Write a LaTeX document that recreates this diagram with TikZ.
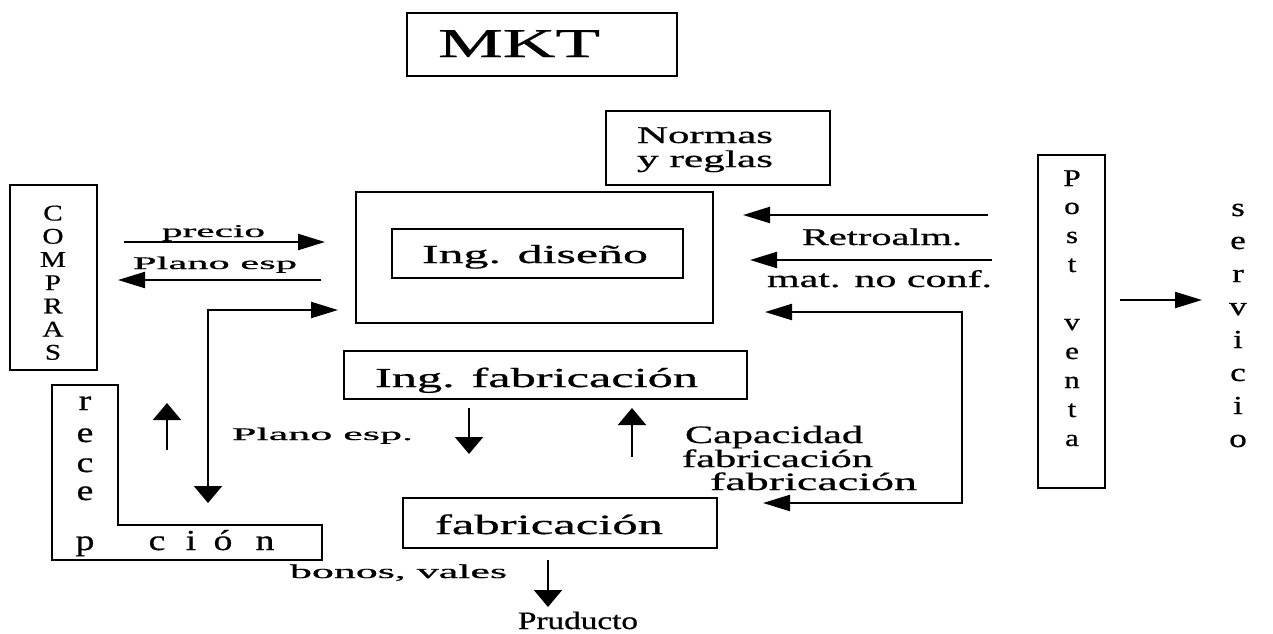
\documentclass[tikz,border=0pt]{standalone}
\usepackage{fontspec}
\setmainfont{Liberation Serif}[FakeBold=0.6]
\usetikzlibrary{arrows.meta}

% text of a given width (pt) and font size (pt), stretched horizontally
\newcommand\tx[3]{\resizebox{#1pt}{\height}{\fontsize{#2pt}{#2pt}\selectfont #3}}
% single letter: horizontal stretch factor, font size, letter
\newcommand\ltr[3]{\scalebox{#1}[1]{\fontsize{#2pt}{#2pt}\selectfont #3}}

\tikzset{
  box/.style={draw, line width=2.2pt, inner sep=0pt, outer sep=0pt},
  lbl/.style={inner sep=0pt, outer sep=0pt, anchor=base west},
  ch/.style={inner sep=0pt, outer sep=0pt, anchor=base},
  link/.style={line width=2.2pt},
  htip/.tip={Triangle[length=27pt,width=16pt]},
  vtip/.tip={Triangle[length=17pt,width=28pt]},
  hz/.style={link, -htip},
  vt/.style={link, -vtip},
}

\begin{document}
\begin{tikzpicture}[x=1pt, y=-1pt]
\useasboundingbox (0,0) rectangle (1273,633);

% ---- boxes ----
\node[box, minimum width=270pt, minimum height=63pt]  (mkt)     at (542,44.5) {};
\node[box, minimum width=224pt, minimum height=74pt]  (normas)  at (718,148) {};
\node[box, minimum width=357pt, minimum height=131pt] (disout)  at (534.5,257.5) {};
\node[box, minimum width=291pt, minimum height=49pt]  (disin)   at (537.5,253.5) {};
\node[box, minimum width=403pt, minimum height=48pt]  (ingfab)  at (545.5,375) {};
\node[box, minimum width=314pt, minimum height=50pt]  (fab)     at (560,523) {};
\node[box, minimum width=87pt,  minimum height=185pt] (compras) at (53.5,277.5) {};
\node[box, minimum width=67pt,  minimum height=333pt] (postv)   at (1071.5,321.5) {};

% L-shaped reception box
\draw[line width=2.2pt, line join=miter]
  (52,385) -- (118,385) -- (118,525) -- (322,525) -- (322,560) -- (52,560) -- cycle;

% ---- box texts ----
\node[lbl] (mktT)    at (438,57)  {\tx{162}{41}{MKT}};
\node[lbl] (normT1)  at (637,143) {\tx{136}{24}{Normas}};
\node[lbl] (normT2)  at (637,167) {\tx{136}{24}{y reglas}};
\node[lbl] (disT)    at (422,263) {\tx{226}{26}{Ing. diseño}};
\node[lbl] (ingfabT) at (375,387) {\tx{323}{27.5}{Ing. fabricación}};
\node[lbl] (fabT)    at (435,534) {\tx{228}{28}{fabricación}};

% vertical words
\foreach \c [count=\i from 0] in {C,O,M,P,R,A,S}
  \node[ch] (comp\i) at (53,220.5+23.2*\i) {\ltr{1.3}{22.5}{\c}};
\foreach \c/\yy [count=\i] in {r/410,e/442,c/472,e/500,p/550}
  \node[ch] (rec\i) at (85,\yy) {\ltr{1.3}{29}{\c}};
\foreach \c/\xx [count=\i] in {c/157,i/191,ó/223,n/265}
  \node[ch] (cion\i) at (\xx,550) {\ltr{1.3}{29}{\c}};
\foreach \c/\yy [count=\i] in {P/186,o/214,s/243,t/272,v/330,e/359,n/388,t/417,a/446}
  \node[ch] (pv\i) at (1072,\yy) {\ltr{1.3}{24}{\c}};
\foreach \c [count=\i from 0] in {s,e,r,v,i,c,i,o}
  \node[ch] (serv\i) at (1238,216+33*\i) {\ltr{1.35}{26}{\c}};

% ---- connector labels ----
\node[lbl] (lprecio) at (162,237) {\tx{103}{18}{precio}};
\node[lbl] (lplano)  at (133,269) {\tx{164}{17.7}{Plano esp}};
\node[lbl] (lplano2) at (232,440) {\tx{181}{17.7}{Plano esp.}};
\node[lbl] (lretro)  at (802,245) {\tx{160}{24}{Retroalm.}};
\node[lbl] (lmat)    at (767,287) {\tx{225}{24}{mat. no conf.}};
\node[lbl] (lcap1)   at (685,443) {\tx{178}{25}{Capacidad}};
\node[lbl] (lcap2)   at (682,467) {\tx{191}{25}{fabricación}};
\node[lbl] (lcap3)   at (710,490) {\tx{207}{25}{fabricación}};
\node[lbl] (lbonos)  at (290,578) {\tx{217}{19.5}{bonos, vales}};
\node[lbl] (lprod)   at (518,629) {\tx{120}{25}{Pruducto}};

% ---- connector end points ----
\coordinate (precioA) at (124,242);  \coordinate (precioB) at (325,242);
\coordinate (planoA)  at (321,280);  \coordinate (planoB)  at (118,280);
\coordinate (lDown)   at (208,503);  \coordinate (lRight)  at (338,310);
\coordinate (recA)    at (167,450);  \coordinate (recB)    at (167,403);
\coordinate (downA)   at (469,408);  \coordinate (downB)   at (469,454);
\coordinate (upA)     at (632,457);  \coordinate (upB)     at (632,408);
\coordinate (retroA)  at (988,215);  \coordinate (retroB)  at (743,215);
\coordinate (matA)    at (992,260);  \coordinate (matB)    at (750,260);
\coordinate (rTop)    at (765,312);  \coordinate (rC1)     at (962,312);
\coordinate (rC2)     at (962,503);  \coordinate (rBot)    at (763,503);
\coordinate (servA)   at (1120,300); \coordinate (servB)   at (1202,300);
\coordinate (prodA)   at (548,560);  \coordinate (prodB)   at (548,607);

% ---- connectors ----
\draw[hz] (precioA) -- (precioB);
\draw[hz] (planoA) -- (planoB);
\draw[link, vtip-htip] (lDown) |- (lRight);
\draw[vt] (recA) -- (recB);
\draw[vt] (downA) -- (downB);
\draw[vt] (upA) -- (upB);
\draw[hz] (retroA) -- (retroB);
\draw[hz] (matA) -- (matB);
\draw[link, htip-htip] (rTop) -- (rC1) -- (rC2) -- (rBot);
\draw[hz] (servA) -- (servB);
\draw[vt] (prodA) -- (prodB);
\end{tikzpicture}
\end{document}
